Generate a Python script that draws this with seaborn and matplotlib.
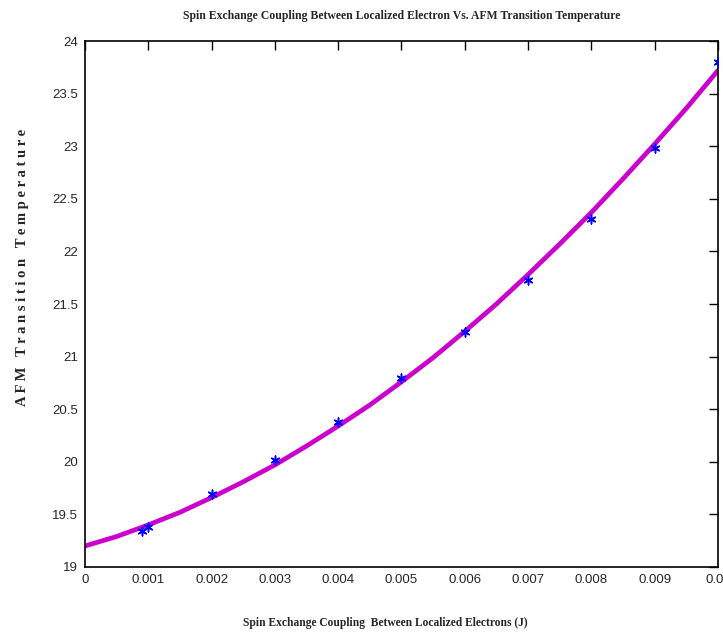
import numpy as np
import pandas as pd
import matplotlib
matplotlib.use("Agg")
import matplotlib.pyplot as plt
import seaborn as sns

# measured points (blue stars)
j_meas = [0.0009, 0.001, 0.002, 0.003, 0.004, 0.005, 0.006, 0.007, 0.008, 0.009, 0.010]
t_meas = [19.34, 19.38, 19.69, 20.02, 20.38, 20.80, 21.23, 21.73, 22.31, 22.98, 23.80]

# fitted curve (magenta), every 0.0005
j_fit = [0.0, 0.0005, 0.001, 0.0015, 0.002, 0.0025, 0.003, 0.0035, 0.004, 0.0045, 0.005,
         0.0055, 0.006, 0.0065, 0.007, 0.0075, 0.008, 0.0085, 0.009, 0.0095, 0.010]
t_fit = [19.20, 19.29, 19.40, 19.52, 19.66, 19.81, 19.97, 20.15, 20.34, 20.54, 20.76,
         20.99, 21.24, 21.50, 21.78, 22.07, 22.37, 22.69, 23.02, 23.36, 23.72]

xticks = [0, 0.001, 0.002, 0.003, 0.004, 0.005, 0.006, 0.007, 0.008, 0.009, 0.01]
xticklabels = ["0", "0.001", "0.002", "0.003", "0.004", "0.005", "0.006", "0.007", "0.008", "0.009", "0.01"]
yticks = [19, 19.5, 20, 20.5, 21, 21.5, 22, 22.5, 23, 23.5, 24]
yticklabels = ["19", "19.5", "20", "20.5", "21", "21.5", "22", "22.5", "23", "23.5", "24"]

sns.set_style("white")
plt.rcParams["xtick.direction"] = "in"
plt.rcParams["ytick.direction"] = "in"
plt.rcParams["font.family"] = ["Liberation Sans", "DejaVu Sans"]

fig = plt.figure(figsize=(7.23, 6.37), dpi=100)
ax = fig.add_axes([0.1176, 0.1099, 0.8754, 0.8257])

df_fit = pd.DataFrame({"J": j_fit, "T": t_fit})
df_meas = pd.DataFrame({"J": j_meas, "T": t_meas})

sns.lineplot(data=df_fit, x="J", y="T", ax=ax, color="#cc00cc", linewidth=3.4)
sns.scatterplot(data=df_meas, x="J", y="T", ax=ax, color="#0000ff", marker=(6, 2, 0),
                s=40, linewidth=1.1, edgecolor="#0000ff", zorder=3)

ax.set_xlim(0, 0.01)
ax.set_ylim(19, 24)
ax.set_xticks(xticks)
ax.set_xticklabels(xticklabels, fontsize=9.5)
ax.set_yticks(yticks)
ax.set_yticklabels(yticklabels, fontsize=9.5)
ax.tick_params(top=True, right=True, length=6.5, width=1, color="black", pad=5)
for s in ax.spines.values():
    s.set_color("black")
    s.set_linewidth(1.2)

serif = ["Liberation Serif", "DejaVu Serif"]
ax.set_title("Spin Exchange Coupling Between Localized Electron Vs. AFM Transition Temperature",
             fontsize=8.5, fontweight="bold", family=serif, pad=16)
ax.set_xlabel("Spin Exchange Coupling  Between Localized Electrons (J)",
              fontsize=8.3, fontweight="bold", family=serif)
ax.set_ylabel("A F M   T r a n s i t i o n   T e m p e r a t u r e",
              fontsize=10.5, fontweight="bold", family=serif)
ax.xaxis.set_label_coords(0.474, -0.095)
ax.yaxis.set_label_coords(-0.088, 0.57)

fig.savefig("out.png", dpi=100)
